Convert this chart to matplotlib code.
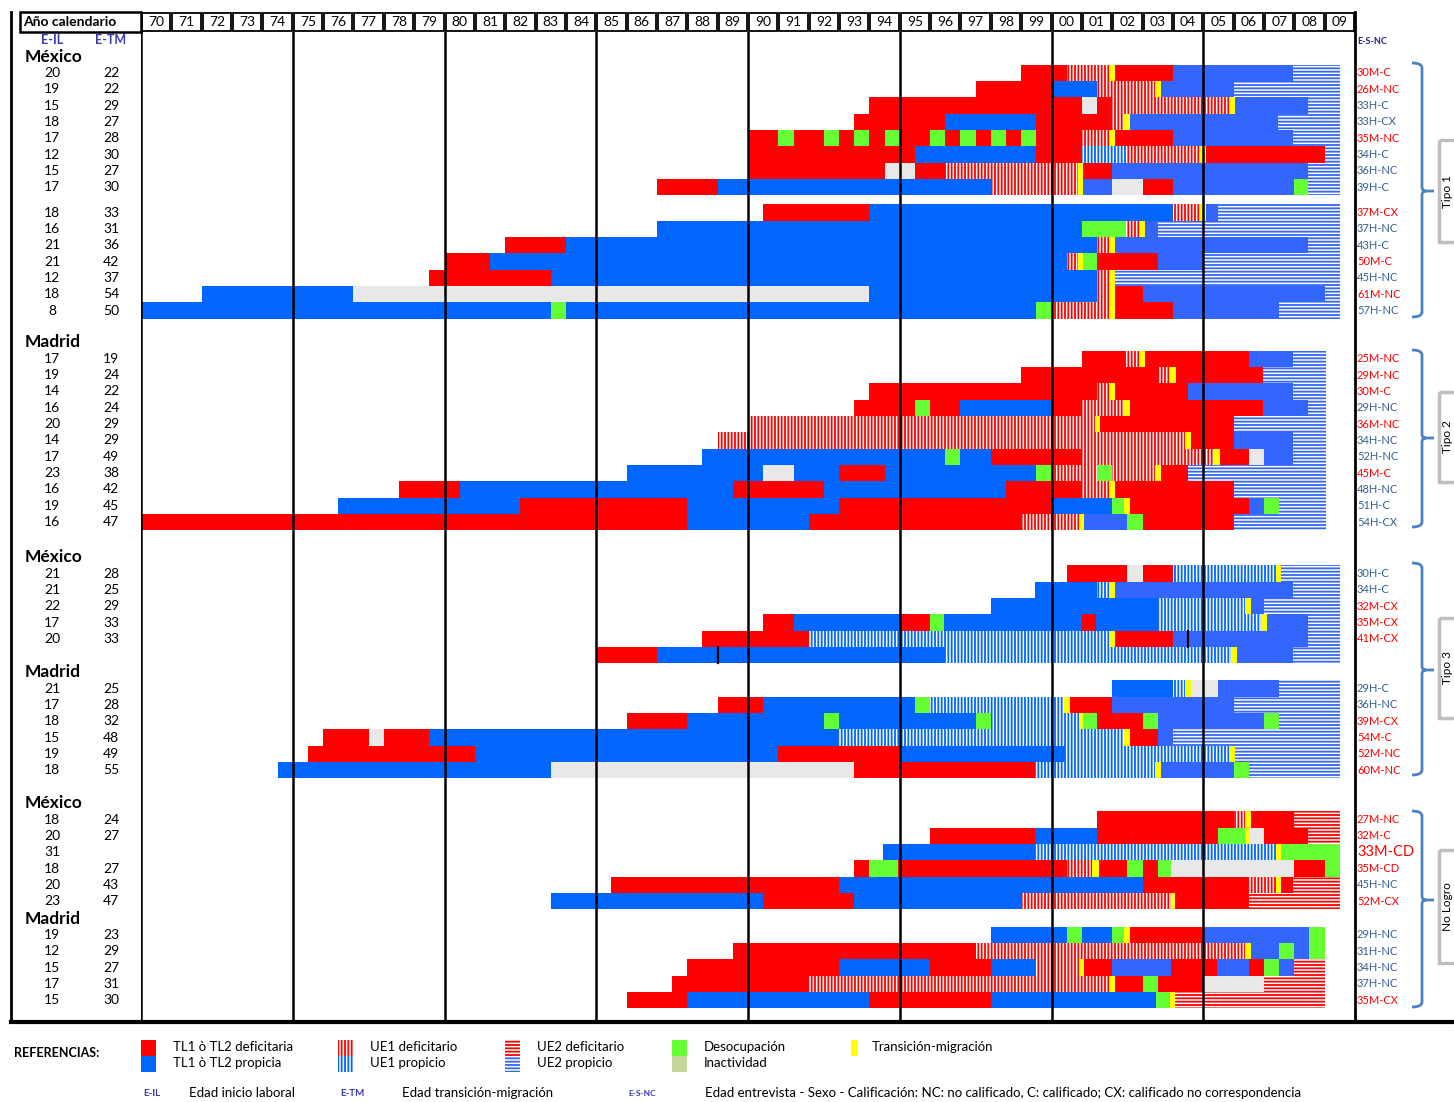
import matplotlib.pyplot as plt
from matplotlib.patches import Rectangle, PathPatch
from matplotlib.path import Path

plt.rcParams['font.family'] = ['Lato', 'DejaVu Sans']
plt.rcParams['hatch.linewidth'] = 1.3

# ---------------- data ----------------
# segment rows: boundary (years after 1970), code, boundary, code, ... , boundary
# R/B/b solid TL (red deficitaria, blue propicia), V/v UE1 stripes, H/h UE2 stripes,
# G desocupacion, I inactividad, Y transicion-migracion

# Tipo 1 - Mexico (first block)
t1a_il = [20, 19, 15, 18, 17, 12, 15, 17]
t1a_tm = [22, 22, 29, 27, 28, 30, 27, 30]
t1a_esn = ['30M-C', '26M-NC', '33H-C', '33H-CX', '35M-NC', '34H-C', '36H-NC', '39H-C']
t1a_seg = [
    [29, 'R', 30.5, 'V', 31.9, 'Y', 32.1, 'R', 34, 'b', 37.95, 'h', 39.5],
    [27.5, 'R', 30, 'B', 31.5, 'V', 33.4, 'Y', 33.6, 'b', 36, 'h', 39.5],
    [24, 'R', 31, 'I', 31.5, 'R', 32, 'V', 35.85, 'Y', 36.05, 'b', 38.45, 'h', 39.5],
    [23.5, 'R', 26.5, 'B', 29.5, 'R', 32, 'V', 32.4, 'Y', 32.6, 'b', 37.45, 'h', 39.5],
    [20, 'R', 21, 'G', 21.5, 'R', 22.5, 'G', 23, 'R', 23.5, 'G', 24, 'R', 24.5, 'G', 25,
     'R', 26, 'G', 26.5, 'R', 27, 'G', 27.5, 'R', 28, 'G', 28.5, 'R', 29, 'G', 29.5,
     'R', 31, 'V', 31.9, 'Y', 32.1, 'R', 34, 'b', 37.95, 'h', 39.5],
    [20, 'R', 25.5, 'B', 29.5, 'R', 31, 'v', 32.5, 'V', 34.9, 'Y', 35.1, 'R', 39, 'h', 39.5],
    [20, 'R', 24.5, 'I', 25.5, 'R', 26.5, 'V', 30.87, 'Y', 31.05, 'R', 32, 'b', 38.45, 'h', 39.5],
    [17, 'R', 19, 'B', 28, 'V', 30.87, 'Y', 31.05, 'b', 32, 'I', 33, 'R', 34, 'b', 38,
     'G', 38.45, 'h', 39.5],
]

# Tipo 1 - Mexico (second block)
t1b_il = [18, 16, 21, 21, 12, 18, 8]
t1b_tm = [33, 31, 36, 42, 37, 54, 50]
t1b_esn = ['37M-CX', '37H-NC', '43H-C', '50M-C', '45H-NC', '61M-NC', '57H-NC']
t1b_seg = [
    [20.5, 'R', 24, 'B', 34, 'V', 34.9, 'Y', 35.1, 'b', 35.5, 'h', 39.5],
    [17, 'B', 31, 'G', 32.45, 'V', 32.9, 'Y', 33.07, 'b', 33.5, 'h', 39.5],
    [12, 'R', 14, 'B', 31.5, 'V', 31.9, 'Y', 32.1, 'b', 38.45, 'h', 39.5],
    [10, 'R', 11.5, 'B', 30.5, 'V', 30.87, 'Y', 31.05, 'G', 31.5, 'R', 33.5, 'b', 35, 'h', 39.5],
    [9.5, 'R', 13.5, 'B', 31.5, 'V', 31.9, 'Y', 32.1, 'h', 39.5],
    [2, 'B', 7, 'I', 24, 'B', 31.5, 'V', 31.9, 'Y', 32.1, 'R', 33, 'b', 39, 'h', 39.5],
    [0, 'B', 13.5, 'G', 14, 'B', 29.5, 'G', 30, 'V', 31.9, 'Y', 32.1, 'R', 34, 'b', 37.5, 'h', 39.5],
]

# Tipo 2 - Madrid
t2_il = [17, 19, 14, 16, 20, 14, 17, 23, 16, 19, 16]
t2_tm = [19, 24, 22, 24, 29, 29, 49, 38, 42, 45, 47]
t2_esn = ['25M-NC', '29M-NC', '30M-C', '29H-NC', '36M-NC', '34H-NC', '52H-NC', '45M-C',
          '48H-NC', '51H-C', '54H-CX']
t2_seg = [
    [31, 'R', 32.45, 'V', 32.87, 'Y', 33.07, 'R', 36.5, 'b', 37.95, 'h', 39.03],
    [29, 'R', 33.5, 'V', 33.9, 'Y', 34.1, 'R', 36.96, 'h', 39.03],
    [24, 'R', 31.5, 'V', 31.9, 'Y', 32.1, 'R', 34.5, 'b', 37.95, 'h', 39.03],
    [23.5, 'R', 25.5, 'G', 26, 'R', 27, 'B', 30, 'R', 31, 'V', 32.35, 'Y', 32.6, 'R', 36.96,
     'b', 38.45, 'h', 39.03],
    [20, 'V', 31.42, 'Y', 31.6, 'R', 36, 'h', 39.03],
    [19, 'V', 34.4, 'Y', 34.6, 'R', 36, 'b', 37.95, 'h', 39.03],
    [18.5, 'B', 26.5, 'G', 27, 'B', 28, 'R', 31, 'V', 35.35, 'Y', 35.55, 'R', 36.5, 'I', 37,
     'b', 37.95, 'h', 39.03],
    [16, 'B', 20.5, 'I', 21.5, 'B', 23, 'R', 24.5, 'B', 29.5, 'G', 30, 'V', 31.5, 'G', 32,
     'V', 33.4, 'Y', 33.6, 'R', 34.5, 'h', 39.03],
    [8.5, 'R', 10.5, 'B', 19.5, 'R', 22.5, 'B', 28.5, 'R', 31, 'V', 31.9, 'Y', 32.1, 'R', 36,
     'h', 39.03],
    [6.5, 'B', 12.5, 'R', 18, 'B', 23, 'R', 30, 'B', 32, 'G', 32.4, 'Y', 32.6, 'R', 36.5,
     'b', 37, 'G', 37.5, 'h', 39.03],
    [0, 'R', 18, 'B', 22, 'R', 29, 'V', 30.9, 'Y', 31.07, 'b', 32.5, 'G', 33, 'R', 36, 'h', 39.03],
]

# Tipo 3 - Mexico
t3m_il = [21, 21, 22, 17, 20, '']
t3m_tm = [28, 25, 29, 33, 33, '']
t3m_esn = ['30H-C', '34H-C', '32M-CX', '35M-CX', '41M-CX', '']
t3m_seg = [
    [30.5, 'R', 32.5, 'I', 33, 'R', 34, 'v', 37.4, 'Y', 37.57, 'h', 39.5],
    [29.45, 'B', 31.5, 'v', 31.9, 'Y', 32.1, 'b', 37.95, 'h', 39.5],
    [28, 'B', 33.5, 'v', 36.37, 'Y', 36.56, 'b', 37, 'h', 39.5],
    [20.5, 'R', 21.5, 'B', 25, 'R', 26, 'G', 26.45, 'B', 31, 'R', 31.45, 'B', 33.5, 'v', 36.9,
     'Y', 37.1, 'b', 38.45, 'h', 39.5],
    [18.5, 'R', 22, 'v', 31.9, 'Y', 32.1, 'R', 34, 'b', 38.45, 'h', 39.5],
    [15, 'R', 17, 'B', 26.5, 'v', 35.9, 'Y', 36.1, 'b', 37.95, 'h', 39.5],
]
t3m_ticks = [(4, 34.5), (5, 19.0)]

# Tipo 3 - Madrid
t3d_il = [21, 17, 18, 15, 19, 18]
t3d_tm = [25, 28, 32, 48, 49, 55]
t3d_esn = ['29H-C', '36H-NC', '39M-CX', '54M-C', '52M-NC', '60M-NC']
t3d_seg = [
    [32, 'B', 34, 'v', 34.4, 'Y', 34.6, 'I', 35.5, 'b', 37.5, 'h', 39.5],
    [19, 'R', 20.5, 'B', 25.5, 'G', 26, 'v', 30.4, 'Y', 30.6, 'R', 32, 'b', 36, 'h', 39.5],
    [16, 'R', 18, 'B', 22.5, 'G', 23, 'B', 27.5, 'G', 28, 'v', 30.9, 'Y', 31.05, 'G', 31.5,
     'R', 33, 'G', 33.5, 'b', 37, 'G', 37.5, 'h', 39.5],
    [6, 'R', 7.5, 'I', 8, 'R', 9.5, 'B', 23, 'v', 32.4, 'Y', 32.6, 'R', 33.5, 'b', 34, 'h', 39.5],
    [5.5, 'R', 11, 'B', 21, 'R', 25, 'B', 30.45, 'v', 35.85, 'Y', 36.05, 'h', 39.5],
    [4.5, 'B', 13.5, 'I', 23.5, 'R', 29.45, 'v', 33.4, 'Y', 33.6, 'b', 36, 'G', 36.5, 'h', 39.5],
]

# No Logro - Mexico
nlm_il = [18, 20, 31, 18, 20, 23]
nlm_tm = [24, 27, '', 27, 43, 47]
nlm_esn = ['27M-NC', '32M-C', '33M-CD', '35M-CD', '45H-NC', '52M-CX']
nlm_seg = [
    [31.5, 'R', 36, 'V', 36.38, 'Y', 36.57, 'R', 38, 'H', 39.5],
    [26, 'R', 29.45, 'B', 31.5, 'R', 35.5, 'G', 36.38, 'Y', 36.55, 'I', 37, 'R', 38.45, 'H', 39.5],
    [24.45, 'B', 29.45, 'v', 37.4, 'Y', 37.57, 'G', 39.5],
    [23.5, 'R', 24, 'G', 24.95, 'R', 30.5, 'V', 31.35, 'Y', 31.58, 'R', 32.5, 'G', 33, 'R', 33.5,
     'G', 33.95, 'I', 38, 'R', 39, 'G', 39.5],
    [15.5, 'R', 23, 'B', 33, 'R', 36.5, 'V', 37.4, 'Y', 37.57, 'R', 37.96, 'H', 39.5],
    [13.5, 'B', 20.5, 'R', 23.5, 'B', 29, 'V', 33.93, 'Y', 34.08, 'R', 36.5, 'H', 39.5],
]

# No Logro - Madrid
nld_il = [19, 12, 15, 17, 15]
nld_tm = [23, 29, 27, 31, 30]
nld_esn = ['29H-NC', '31H-NC', '34H-NC', '37H-NC', '35M-CX']
nld_seg = [
    [28, 'B', 30.5, 'G', 31, 'B', 32, 'G', 32.4, 'Y', 32.6, 'R', 35, 'b', 38.5, 'G', 39.02],
    [19.5, 'R', 27.5, 'V', 36.38, 'Y', 36.57, 'b', 37.5, 'G', 38, 'b', 38.5, 'G', 39.02],
    [18, 'R', 23, 'B', 26, 'R', 28, 'B', 29.45, 'V', 30.9, 'Y', 31.07, 'R', 32, 'b', 33.95,
     'R', 35.45, 'b', 36.5, 'R', 37, 'G', 37.5, 'b', 38, 'H', 39.02],
    [17.5, 'R', 22, 'V', 31.9, 'Y', 32.1, 'R', 33, 'G', 33.5, 'R', 35, 'I', 37, 'H', 39.02],
    [16, 'R', 18, 'B', 24, 'R', 28, 'B', 33.45, 'G', 33.9, 'Y', 34.08, 'H', 39.02],
]

# (header, first row slot, E-IL, E-TM, E-S-NC, segments, ticks)
blocks = [
    ('México', 0.0, t1a_il, t1a_tm, t1a_esn, t1a_seg, []),
    (None, 8.55, t1b_il, t1b_tm, t1b_esn, t1b_seg, []),
    ('Madrid', 17.5, t2_il, t2_tm, t2_esn, t2_seg, []),
    ('México', 30.65, t3m_il, t3m_tm, t3m_esn, t3m_seg, t3m_ticks),
    ('Madrid', 37.7, t3d_il, t3d_tm, t3d_esn, t3d_seg, []),
    ('México', 45.72, nlm_il, nlm_tm, nlm_esn, nlm_seg, []),
    ('Madrid', 52.78, nld_il, nld_tm, nld_esn, nld_seg, []),
]

# groups on the right: name, brace top / tip / bottom, label box top / bottom (pixels)
groups = [
    ('Tipo 1', 63, 191, 317, 140, 242),
    ('Tipo 2', 350, 438, 527, 392, 482),
    ('Tipo 3', 563, 670, 775, 618, 718),
    ('No Logro', 811, 900, 1007, 850, 963),
]

RED, BLUE, BLUE2 = '#ff0000', '#0066ff', '#3366ff'
STYLE = {
    'R': (RED, None, None),
    'B': (BLUE, None, None),
    'b': (BLUE2, None, None),
    'G': ('#66ff33', None, None),
    'I': ('#e8e8e8', None, None),
    'Y': ('#ffff00', None, None),
    'V': ('white', RED, '|||||'),
    'v': ('white', BLUE, '|||||'),
    'H': ('white', RED, '-----'),
    'h': ('white', BLUE2, '-----'),
}

# ---------------- figure ----------------
W, H = 1454, 1102
fig = plt.figure(figsize=(W / 100, H / 100), dpi=100)
deco = fig.add_axes([0, 0, 1, 1])
deco.set_xlim(0, W)
deco.set_ylim(H, 0)
deco.axis('off')

X0, X1, Y0, Y1 = 141, 1355, 32, 1022
ROW0, PITCH = 73, 16.33
ax = fig.add_axes([X0 / W, 1 - Y1 / H, (X1 - X0) / W, (Y1 - Y0) / H])
ax.set_xlim(0, 40)
ax.set_ylim((Y1 - ROW0) / PITCH, (Y0 - ROW0) / PITCH)
ax.axis('off')


def row_px(slot):
    return ROW0 + slot * PITCH


# bars
acc = {c: ([], [], []) for c in STYLE}
for name, first, il, tm, esn, segs, ticks in blocks:
    for i, row in enumerate(segs):
        bounds, codes = row[0::2], row[1::2]
        for a, c, b in zip(bounds[:-1], codes, bounds[1:]):
            acc[c][0].append(first + i)
            acc[c][1].append(a)
            acc[c][2].append(b - a)
    for i, t in ticks:
        ax.plot([t, t], [first + i - 0.5, first + i + 0.5], color='black', lw=1.6, zorder=4)

for c, (ys, lefts, widths) in acc.items():
    if not ys:
        continue
    face, ec, hatch = STYLE[c]
    ax.barh(ys, widths, left=lefts, height=1.0, color=face, edgecolor=ec if ec else face,
            linewidth=0, hatch=hatch, antialiased=False, zorder=2)

# 5-year lines
for yr in range(0, 40, 5):
    ax.axvline(yr, color='black', lw=1.8, zorder=5)

# header
deco.add_patch(Rectangle((20, 12), X0 - 20, 20, fill=False, ec='black', lw=1.8))
deco.text(23, 22, 'Año calendario', fontsize=10, fontweight='bold', va='center', ha='left')
cw = (X1 - X0) / 40
for i in range(40):
    deco.add_patch(Rectangle((X0 + i * cw + 1, 13), cw - 2, 18, fill=False, ec='black', lw=1.3))
    deco.text(X0 + (i + 0.5) * cw, 22, f'{(70 + i) % 100:02d}', fontsize=10, ha='center', va='center')

deco.plot([11, 11], [12, 1022], color='black', lw=2)
deco.plot([X1, X1], [12, 1022], color='black', lw=2)
deco.plot([11, W], [1022, 1022], color='black', lw=3)

# left columns
lab_blue = '#3a3ab0'
deco.text(52, 40, 'E-IL', fontsize=9, fontweight='bold', color=lab_blue, ha='center', va='center')
deco.text(111, 40, 'E-TM', fontsize=9, fontweight='bold', color=lab_blue, ha='center', va='center')
deco.text(1357, 41, 'E-S-NC', fontsize=6.5, fontweight='bold', color='#1f1f8f', ha='left', va='center')

for name, first, il, tm, esn, segs, ticks in blocks:
    if name:
        deco.text(25, row_px(first - 1.0), name, fontsize=12.5, fontweight='bold',
                  ha='left', va='center')
    for i in range(len(segs)):
        y = row_px(first + i)
        deco.text(52, y, str(il[i]), fontsize=10, ha='center', va='center')
        deco.text(111, y, str(tm[i]), fontsize=10, ha='center', va='center')
        lab = esn[i]
        if lab:
            col = RED if 'M' in lab else '#365f91'
            deco.text(1357, y, lab, fontsize=10.5 if lab == '33M-CD' else 8, color=col,
                      ha='left', va='center')

# braces and group boxes
bx, hook, tip = 1422, 10, 12
for gname, top, mid, bot, btop, bbot in groups:
    verts = [(bx - hook, top), (bx, top), (bx, top + 5),
             (bx, mid - 4), (bx, mid), (bx + 4, mid), (bx + tip, mid),
             (bx + 4, mid), (bx, mid), (bx, mid + 4),
             (bx, bot - 5), (bx, bot), (bx - hook, bot)]
    codes = [Path.MOVETO, Path.CURVE3, Path.CURVE3,
             Path.LINETO, Path.CURVE3, Path.CURVE3, Path.LINETO,
             Path.MOVETO, Path.CURVE3, Path.CURVE3,
             Path.LINETO, Path.CURVE3, Path.CURVE3]
    deco.add_patch(PathPatch(Path(verts, codes), fill=False, ec='#4f81bd', lw=2))
    deco.add_patch(Rectangle((1439, btop), 60, bbot - btop, fill=False, ec='#bfbfbf', lw=2.5))
    deco.text(1447.5, (btop + bbot) / 2, gname, fontsize=8.5, rotation=90, ha='center', va='center')

# legend
deco.text(14, 1053, 'REFERENCIAS:', fontsize=9, fontweight='bold', ha='left', va='center')
legend_items = [
    (141, 15, 'R', 'B', 'TL1 ò TL2 deficitaria', 'TL1 ò TL2 propicia'),
    (338, 15, 'V', 'v', 'UE1 deficitario', 'UE1 propicio'),
    (505, 15, 'H', 'h', 'UE2 deficitario', 'UE2 propicio'),
    (672, 15, 'G', None, 'Desocupación', 'Inactividad'),
    (851, 6, 'Y', None, 'Transición-migración', None),
]
for x, w, c1, c2, t1, t2 in legend_items:
    for (c, y0) in ((c1, 1040), (c2, 1056)):
        if c is None:
            continue
        face, ec, hatch = STYLE[c]
        deco.add_patch(Rectangle((x, y0), w, 16, fc=face, ec=ec if ec else face, lw=0,
                                 hatch=hatch, antialiased=False))
    tx = x + 32 if w > 10 else x + 21
    deco.text(tx, 1047, t1, fontsize=9.5, ha='left', va='center')
    if t2:
        deco.text(tx, 1063, t2, fontsize=9.5, ha='left', va='center')
deco.add_patch(Rectangle((672, 1056), 15, 16, fc='#c4d79b', lw=0))

foot_y = 1093
deco.text(143, foot_y, 'E-IL', fontsize=7, fontweight='bold', color=lab_blue, ha='left', va='center')
deco.text(189, foot_y, 'Edad inicio laboral', fontsize=9.5, ha='left', va='center')
deco.text(340, foot_y, 'E-TM', fontsize=7, fontweight='bold', color=lab_blue, ha='left', va='center')
deco.text(402, foot_y, 'Edad transición-migración', fontsize=9.5, ha='left', va='center')
deco.text(628, foot_y, 'E-S-NC', fontsize=6, fontweight='bold', color=lab_blue, ha='left', va='center')
deco.text(705, foot_y, 'Edad entrevista - Sexo - Calificación: NC: no calificado, C: calificado; '
          'CX: calificado no correspondencia', fontsize=9.5, ha='left', va='center')

fig.savefig('out.png', dpi=100, facecolor='white')
